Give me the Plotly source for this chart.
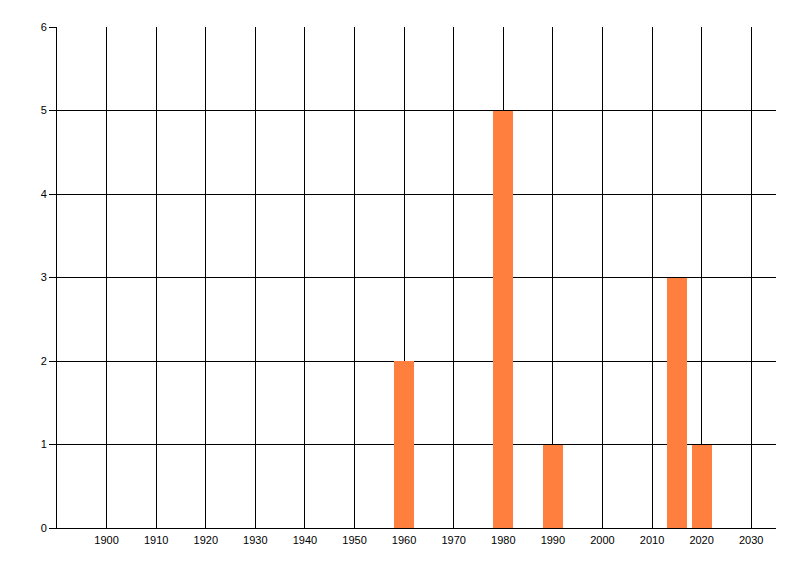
import plotly.graph_objects as go

years = [1960, 1980, 1990, 2015, 2020]
counts = [2, 5, 1, 3, 1]
x_ticks = list(range(1900, 2031, 10))
y_ticks = [0, 1, 2, 3, 4, 5, 6]

fig = go.Figure()
fig.add_trace(go.Bar(x=years, y=counts, width=4, marker=dict(color="#FF7F3F", line=dict(width=0))))

fig.update_layout(
    width=800, height=576,
    margin=dict(l=49, r=32, t=19, b=56),
    paper_bgcolor="white", plot_bgcolor="white",
    font=dict(family="Liberation Sans, Arial, sans-serif", size=11, color="black"),
    showlegend=False,
    bargap=0,
)
fig.update_xaxes(
    range=[1890, 2035], tickvals=x_ticks, ticktext=[str(v) for v in x_ticks],
    showgrid=True, gridcolor="black", gridwidth=1,
    showline=True, linecolor="black", linewidth=1,
    ticks="", zeroline=False, ticklabelstandoff=2,
)
fig.update_yaxes(
    range=[0, 6], tickvals=y_ticks,
    showgrid=True, gridcolor="black", gridwidth=1,
    showline=True, linecolor="black", linewidth=1,
    ticks="outside", ticklen=7, tickcolor="black", zeroline=False,
)
fig.write_html("out.html")
